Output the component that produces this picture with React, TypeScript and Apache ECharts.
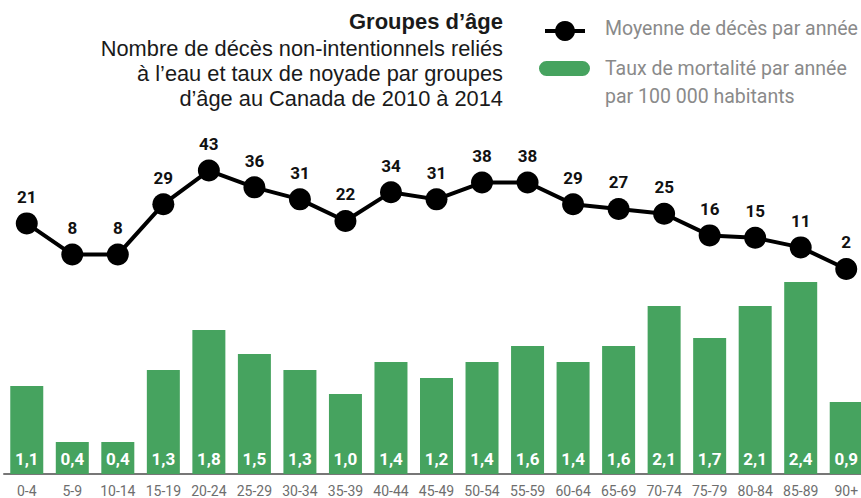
import React, { useEffect, useRef } from "react";
import * as echarts from "echarts";

const categories = ["0-4", "5-9", "10-14", "15-19", "20-24", "25-29", "30-34", "35-39", "40-44", "45-49", "50-54", "55-59", "60-64", "65-69", "70-74", "75-79", "80-84", "85-89", "90+"];
const mortalityRate = [1.1, 0.4, 0.4, 1.3, 1.8, 1.5, 1.3, 1.0, 1.4, 1.2, 1.4, 1.6, 1.4, 1.6, 2.1, 1.7, 2.1, 2.4, 0.9];
const avgDeaths = [21, 8, 8, 29, 43, 36, 31, 22, 34, 31, 38, 38, 29, 27, 25, 16, 15, 11, 2];

const titleText = "Groupes d’âge";
const subtitleLines = ["Nombre de décès non-intentionnels reliés", "à l’eau et taux de noyade par groupes", "d’âge au Canada de 2010 à 2014"];
const legendLine = "Moyenne de décès par année";
const legendBar = ["Taux de mortalité par année", "par 100 000 habitants"];

const GREEN = "#46a35f";
const SANS = "'Liberation Sans', Arial, sans-serif";
const COND = "Roboto, 'Open Sans', sans-serif";

export default function App() {
  const ref = useRef<HTMLDivElement>(null);
  useEffect(() => {
    if (!ref.current) return;
    const chart = echarts.init(ref.current, null, { renderer: "svg" });
    const fmt = (v: number) => v.toFixed(1).replace(".", ",");
    chart.setOption({
      animation: false,
      grid: { left: 4, top: 160, right: 11, bottom: 24, containLabel: false },
      xAxis: {
        type: "category",
        data: categories,
        axisTick: { show: false },
        axisLine: { show: true, lineStyle: { color: "#777", width: 2 } },
        axisLabel: { color: "#6e6e6e", fontSize: 14, fontFamily: COND, margin: 10, interval: 0 },
      },
      yAxis: [
        { type: "value", min: 0, max: 3.925, show: false, splitLine: { show: false } },
        { type: "value", min: -83.4, max: 47.4, show: false, splitLine: { show: false } },
      ],
      series: [
        {
          type: "bar",
          yAxisIndex: 0,
          data: mortalityRate,
          barWidth: 33,
          itemStyle: { color: GREEN },
          label: {
            show: true,
            position: "insideBottom",
            distance: 7,
            color: "#fff",
            fontWeight: "bold",
            fontSize: 17,
            fontFamily: COND,
            formatter: (p: any) => fmt(p.value),
          },
        },
        {
          type: "line",
          yAxisIndex: 1,
          data: avgDeaths,
          symbol: "circle",
          symbolSize: 22,
          lineStyle: { color: "#000", width: 4 },
          itemStyle: { color: "#000" },
          label: {
            show: true,
            position: "top",
            distance: 7,
            color: "#111",
            fontWeight: "bold",
            fontSize: 17,
            fontFamily: COND,
          },
        },
      ],
      graphic: [
        {
          type: "text",
          x: 503,
          y: 21,
          style: { text: titleText, fill: "#1a1a1a", font: `bold 22px ${SANS}`, textAlign: "right", textVerticalAlign: "middle" },
        },
        ...subtitleLines.map((t, i) => ({
          type: "text",
          x: 503,
          y: 48 + i * 25,
          style: { text: t, fill: "#1a1a1a", font: `21.8px ${SANS}`, textAlign: "right", textVerticalAlign: "middle" },
        })),
        { type: "line", shape: { x1: 545, y1: 31, x2: 585, y2: 31 }, style: { stroke: "#000", lineWidth: 4 } },
        { type: "circle", shape: { cx: 565, cy: 31, r: 10 }, style: { fill: "#000" } },
        { type: "rect", shape: { x: 539, y: 61, width: 51, height: 15, r: 7.5 }, style: { fill: GREEN } },
        {
          type: "text",
          x: 605,
          y: 28,
          style: { text: legendLine, fill: "#8a8a8a", font: `19.5px ${COND}`, textVerticalAlign: "middle" },
        },
        ...legendBar.map((t, i) => ({
          type: "text",
          x: 605,
          y: 68 + i * 28,
          style: { text: t, fill: "#8a8a8a", font: `19.5px ${COND}`, textVerticalAlign: "middle" },
        })),
      ],
    });
    return () => chart.dispose();
  }, []);
  return <div ref={ref} style={{ position: "fixed", left: 0, top: 0, width: 880, height: 498, background: "#fff" }} />;
}
